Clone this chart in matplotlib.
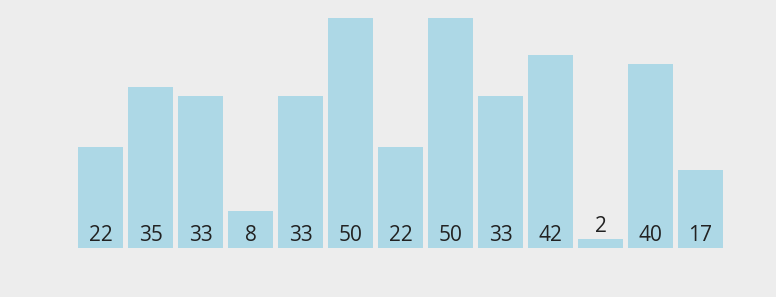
import matplotlib.pyplot as plt

values = [22, 35, 33, 8, 33, 50, 22, 50, 33, 42, 2, 40, 17]
labels = [str(v) for v in values]

bg = "#ededed"
fig = plt.figure(figsize=(7.76, 2.97), dpi=100, facecolor=bg)
ax = fig.add_axes([78 / 776, 49 / 297, 645 / 776, 230 / 297])
ax.set_facecolor(bg)

xs = list(range(len(values)))
ax.bar(xs, values, width=0.9, color="#add8e6", linewidth=0)

for x, v, lab in zip(xs, values, labels):
    if v < 5:
        # too small, put the label above the bar
        ax.annotate(lab, (x, v), xytext=(0, 5), textcoords="offset points",
                    ha="center", va="baseline", fontsize=15, color="#222222",
                    family="Open Sans")
    else:
        ax.annotate(lab, (x, 0), xytext=(0, 5), textcoords="offset points",
                    ha="center", va="baseline", fontsize=15, color="#222222",
                    family="Open Sans")

ax.set_xlim(-0.45, len(values) - 0.55)
ax.set_ylim(0, 50)
ax.axis("off")

fig.savefig("out.png", dpi=100, facecolor=bg)
